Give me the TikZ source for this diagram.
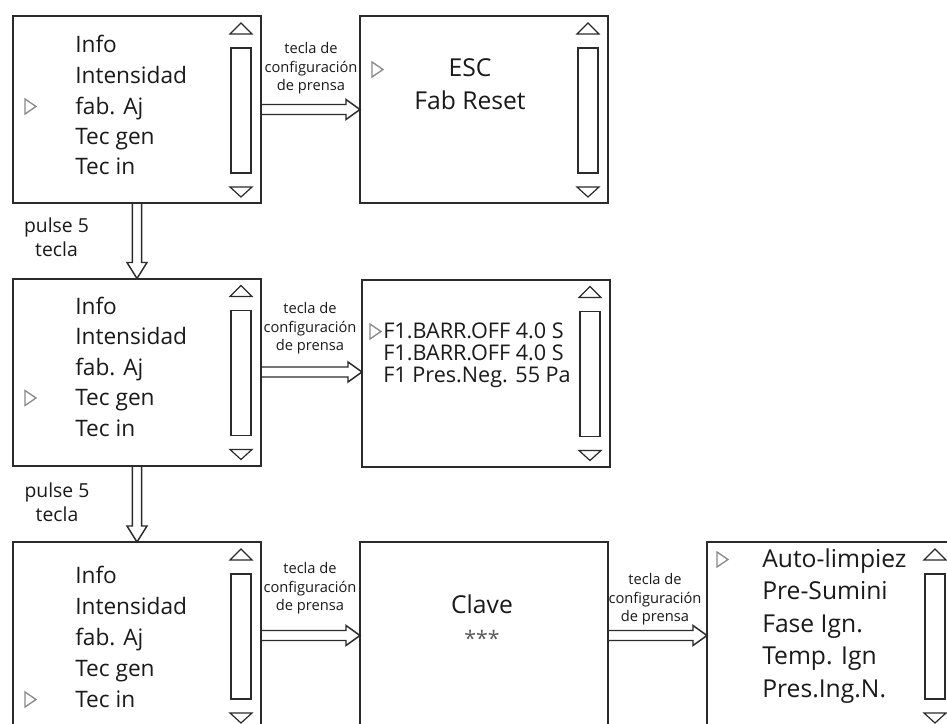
\documentclass[tikz,border=0pt]{standalone}
\usepackage{fontspec}
\setmainfont{Open Sans}
\usetikzlibrary{calc}
\definecolor{lcdline}{HTML}{2B2B2B}
\definecolor{lcdtext}{HTML}{1A1A1A}
\definecolor{lcdmark}{HTML}{8A8A8A}
% scroll bar at the right side of a screen
\newcommand{\scrollbar}[1]{%
  \draw[tri] ([shift={(-31,18)}]#1.north east) -- ++(11,-11) -- ++(11,11) -- cycle;
  \draw[bar] ([shift={(-30,32)}]#1.north east) rectangle ++(20,125);
  \draw[tri] ([shift={(-31,171)}]#1.north east) -- ++(11,10) -- ++(11,-10) -- cycle;
}
% open cursor triangle
\newcommand{\cursor}[1]{\draw[cur] #1 -- ++(11,7.5) -- ++(-11,7.5) -- cycle;}

\begin{document}
\begin{tikzpicture}[
  x=0.75pt, y=-0.75pt,
  screen/.style={draw=lcdline, line width=1.5pt, minimum width=186pt, minimum height=140.25pt, inner sep=0pt, outer sep=0pt},
  item/.style={anchor=base west, inner sep=0pt, text=lcdtext, font=\fontsize{17}{20}\selectfont},
  bigitem/.style={item, font=\fontsize{18.5}{22}\selectfont},
  keylbl/.style={anchor=north, align=center, inner sep=0pt, text=lcdtext, font=\fontsize{11}{14}\selectfont},
  pulselbl/.style={anchor=north, align=center, inner sep=0pt, text=lcdtext, font=\fontsize{14.5}{17.5}\selectfont},
  tri/.style={draw=lcdline, line width=0.9pt},
  bar/.style={draw=lcdline, line width=1.3pt},
  cur/.style={draw=lcdmark, line width=1pt},
  harr/.style={draw=lcdline, line width=1.1pt, to path={let \p1=(\tikztostart), \p2=(\tikztotarget) in
    (\x1,\y1+3.75pt) -- (\x2-10.5pt,\y1+3.75pt) -- (\x2-10.5pt,\y1+7.5pt) -- (\x2,\y1)
    -- (\x2-10.5pt,\y1-7.5pt) -- (\x2-10.5pt,\y1-3.75pt) -- (\x1,\y1-3.75pt)}},
  varr/.style={draw=lcdline, line width=1.1pt, to path={let \p1=(\tikztostart), \p2=(\tikztotarget) in
    (\x1+3.5pt,\y1) -- (\x1+3.5pt,\y2+12pt) -- (\x1+7.5pt,\y2+12pt) -- (\x1,\y2)
    -- (\x1-7.5pt,\y2+12pt) -- (\x1-3.5pt,\y2+12pt) -- (\x1-3.5pt,\y1)}}
]
\useasboundingbox (0,0) rectangle (947,724);
\fill[white] (0,0) rectangle (947,724);
\clip (0,0) rectangle (947,724);

% row 1
\node[screen] (menuA) at (137,109.5) {};
\foreach \t [count=\i] in {Info,Intensidad,fab. Aj,Tec gen,Tec in}
  \node[item] (menuA\i) at (75,22.5+30.5*\i) {\t};
\scrollbar{menuA}
\cursor{(25,99)}
\node[screen] (escB) at (484,109.5) {};
\node[bigitem, anchor=base] (escB1) at (470,77) {ESC};
\node[bigitem, anchor=base] (escB2) at (470,110) {Fab Reset};
\scrollbar{escB}
\cursor{(372,62)}
\draw[harr] (menuA.east) to (escB.west);
\node[keylbl] (keyA) at (311,42) {tecla de\\configuración\\de prensa};

% row 2
\node[screen] (menuC) at (137,372) {};
\foreach \t [count=\i] in {Info,Intensidad,fab. Aj,Tec gen,Tec in}
  \node[item] (menuC\i) at (75,283.5+30.5*\i) {\t};
\scrollbar{menuC}
\cursor{(25,390.5)}
\node[screen] (parD) at (486,373) {};
\foreach \t [count=\i] in {F1.BARR.OFF 4.0 S,F1.BARR.OFF 4.0 S,F1 Pres.Neg. 55 Pa}
  \node[item, font=\fontsize{16.2}{20}\selectfont] (parD\i) at (383,316+22*\i) {\t};
\scrollbar{parD}
\cursor{(370,324)}
\draw[harr] (menuC.east) to (parD.west);
\node[keylbl] (keyC) at (310,302) {tecla de\\configuración\\de prensa};
\draw[varr] (menuA.south) to (menuC.north);
\node[pulselbl] (pulseA) at (56.5,218) {pulse 5\\tecla};

% row 3
\node[screen] (menuE) at (137,635.5) {};
\foreach \t [count=\i] in {Info,Intensidad,fab. Aj,Tec gen,Tec in}
  \node[item] (menuE\i) at (75,552+31*\i) {\t};
\scrollbar{menuE}
\cursor{(25,692)}
\node[screen] (keyF) at (484,635.5) {};
\node[bigitem, anchor=base] (keyF1) at (482,613) {Clave};
\node[anchor=base, inner sep=0pt, text=black!65, font=\fontsize{16}{18}\selectfont] (keyF2) at (482,646) {***};
\node[screen] (setG) at (831,635.5) {};
\foreach \t [count=\i] in {Auto-limpiez,Pre-Sumini,Fase Ign.,Temp. Ign,Pres.Ing.N.}
  \node[bigitem] (setG\i) at (762,534.5+32.5*\i) {\t};
\scrollbar{setG}
\cursor{(717,552)}
\draw[harr] (menuE.east) to (keyF.west);
\draw[harr] (keyF.east) to (setG.west);
\node[keylbl] (keyE) at (310,562) {tecla de\\configuración\\de prensa};
\node[keylbl] (keyG) at (655,573) {tecla de\\configuración\\de prensa};
\draw[varr] (menuC.south) to (menuE.north);
\node[pulselbl] (pulseC) at (57,483) {pulse 5\\tecla};
\end{tikzpicture}
\end{document}
